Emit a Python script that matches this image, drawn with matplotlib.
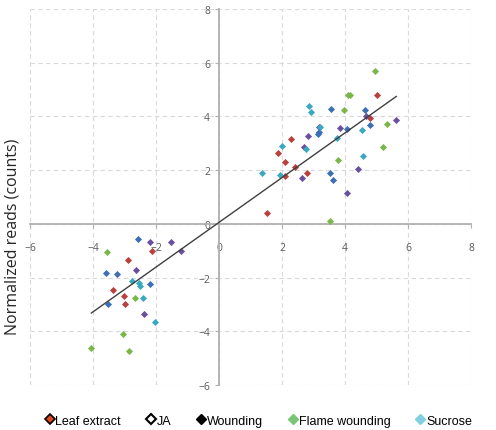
import numpy as np
import matplotlib
matplotlib.use("Agg")
import matplotlib.pyplot as plt
from matplotlib.lines import Line2D

# values
leaf_x = [5.03, 4.79, 2.30, 1.87, 2.09, 2.42, 2.09, 2.81, 1.51, -2.14, -2.89, -3.37, -3.02, -2.98]
leaf_y = [4.78, 3.95, 3.15, 2.63, 2.30, 2.13, 1.80, 1.91, 0.41, -1.02, -1.33, -2.45, -2.70, -2.99]

ja_x = [4.68, 5.63, 3.85, 2.83, 2.70, 4.40, 2.65, 4.05, 3.16, -2.19, -1.51, -1.21, -2.63, -2.38]
ja_y = [4.03, 3.85, 3.58, 3.28, 2.85, 2.03, 1.71, 1.16, 3.60, -0.67, -0.67, -1.02, -1.70, -3.35]

wound_x = [3.56, 4.65, 4.79, 4.07, 3.19, 3.13, 3.54, 3.63, -2.58, -3.60, -3.23, -2.19, -3.53]
wound_y = [4.27, 4.25, 3.69, 3.53, 3.41, 3.35, 1.91, 1.64, -0.57, -1.82, -1.88, -2.23, -2.99]

flame_x = [4.95, 4.09, 4.15, 3.98, 5.33, 5.20, 3.78, 3.52, -3.54, -2.68, -3.04, -4.05, -2.86]
flame_y = [5.68, 4.78, 4.80, 4.24, 3.73, 2.86, 2.38, 0.12, -1.03, -2.75, -4.11, -4.63, -4.73]

suc_x = [2.87, 2.93, 3.22, 4.53, 3.74, 2.77, 2.01, 4.56, 1.38, 1.93, -2.77, -2.54, -2.52, -2.41, -2.04]
suc_y = [4.37, 4.17, 3.62, 3.49, 3.20, 2.78, 2.90, 2.54, 1.91, 1.82, -2.12, -2.21, -2.32, -2.75, -3.65]

trend_slope = 0.833
trend_intercept = 0.055

ticks = [-6, -4, -2, 0, 2, 4, 6, 8]

series = [
    (leaf_x, leaf_y, "#b8413d"),
    (ja_x, ja_y, "#6a4f9e"),
    (wound_x, wound_y, "#3b6fb6"),
    (flame_x, flame_y, "#7ab648"),
    (suc_x, suc_y, "#3aa8c1"),
]

fig = plt.figure(figsize=(4.96, 4.31), dpi=100)
ax = fig.add_axes([0.0605, 0.1044, 0.889, 0.8724])

ax.set_xlim(-6, 8)
ax.set_ylim(-6, 8)
ax.set_xticks(ticks)
ax.set_yticks(ticks)
ax.grid(True, color="#d9d9d9", linestyle=(0, (4, 3)), linewidth=0.8)
ax.set_axisbelow(True)

ax.spines["left"].set_position(("data", 0))
ax.spines["bottom"].set_position(("data", 0))
ax.spines["right"].set_visible(False)
ax.spines["top"].set_visible(False)
for s in ("left", "bottom"):
    ax.spines[s].set_color("#b0b0b0")
    ax.spines[s].set_linewidth(1.3)
ax.tick_params(length=3, color="#b0b0b0", labelsize=7.5, labelcolor="#595959")
ax.tick_params(axis="x", direction="out", pad=10)
for lab in ax.get_xticklabels() + ax.get_yticklabels():
    lab.set_fontfamily("Open Sans")

for xs, ys, c in series:
    ax.scatter(xs, ys, marker="D", s=13, color=c, linewidths=0, zorder=3)

all_x = np.concatenate([leaf_x, ja_x, wound_x, flame_x, suc_x])
lx = np.array([all_x.min(), all_x.max()])
ax.plot(lx, trend_slope * lx + trend_intercept, color="#404040", linewidth=1.0, zorder=4)

fig.text(0.026, 0.45, "Normalized reads (counts)", rotation=90, ha="center", va="center",
         fontsize=11.5, family="Open Sans", color="#262626")

handles = [
    Line2D([], [], marker="D", linestyle="", markersize=5, markerfacecolor="#e04a1c",
           markeredgecolor="black", markeredgewidth=1.2),
    Line2D([], [], marker="D", linestyle="", markersize=5, markerfacecolor="white",
           markeredgecolor="black", markeredgewidth=1.5),
    Line2D([], [], marker="D", linestyle="", markersize=5, markerfacecolor="black",
           markeredgecolor="black"),
    Line2D([], [], marker="D", linestyle="", markersize=5, markerfacecolor="#7cc576",
           markeredgecolor="#7cc576"),
    Line2D([], [], marker="D", linestyle="", markersize=5, markerfacecolor="#80d0e2",
           markeredgecolor="#80d0e2"),
]
labels = ["Leaf extract", "JA", "Wounding", "Flame wounding", "Sucrose"]
fig.legend(handles, labels, loc="center", bbox_to_anchor=(0.52, 0.022), ncol=5,
           frameon=False, prop={"family": "Liberation Sans", "size": 9},
           handletextpad=0.0, columnspacing=1.95, handlelength=0.9)

fig.savefig("out.png", dpi=100)
